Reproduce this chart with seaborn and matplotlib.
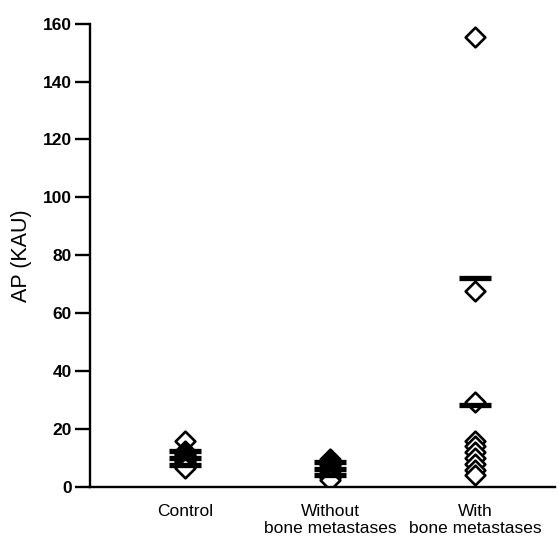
import pandas as pd
import matplotlib
matplotlib.use("Agg")
import matplotlib.pyplot as plt
import seaborn as sns

# group labels
groups = ["Control", "Without\nbone metastases", "With\nbone metastases"]

# individual AP values (KAU)
control_vals = [16, 12.5, 12, 11.5, 11, 10.5, 10, 9.5, 9, 8.5, 8, 7.5, 7, 6.5]
without_vals = [9.5, 8.5, 8, 7.5, 7, 6.5, 6, 5.5, 5, 4.5, 4, 3.5, 3, 2.5]
with_vals = [155.5, 67.5, 29.5, 16, 14, 12, 10, 8, 6, 4]

# mean and mean +/- SD bars
bar_groups = [groups[0], groups[0], groups[0],
              groups[1], groups[1], groups[1],
              groups[2], groups[2]]
bar_vals = [12.4, 10.1, 7.6,
            8.5, 6.2, 4.0,
            72.2, 28.2]

df = pd.DataFrame({
    "group": [groups[0]] * len(control_vals) + [groups[1]] * len(without_vals)
             + [groups[2]] * len(with_vals),
    "ap": control_vals + without_vals + with_vals,
})

sns.set_style("white")
plt.rcParams["font.family"] = ["Liberation Sans", "DejaVu Sans"]

fig = plt.figure(figsize=(5.59, 5.42), dpi=100)
ax = fig.add_axes([0.161, 0.1015, 0.832, 0.855])

sns.stripplot(data=df, x="group", y="ap", order=groups, jitter=False,
              marker="D", size=10, color="white", edgecolor="black",
              linewidth=1.9, ax=ax, zorder=2)

# mean / SD bars drawn as wide horizontal markers
bar_x = [groups.index(g) for g in bar_groups]
ax.plot(bar_x, bar_vals, ls="none", marker="_", markersize=23,
        markeredgewidth=3.8, color="black", zorder=3)

ax.set_xlim(-0.655, 2.55)
ax.set_ylim(0, 160)
ax.set_yticks(range(0, 161, 20))
ax.set_xlabel("")
ax.set_ylabel("AP (KAU)", fontsize=15.5, labelpad=8, color="black")

for side in ["top", "right"]:
    ax.spines[side].set_visible(False)
for side in ["left", "bottom"]:
    ax.spines[side].set_linewidth(1.7)
    ax.spines[side].set_color("black")

ax.tick_params(axis="y", direction="out", length=11, width=1.7,
               labelsize=12.5, pad=2, left=True, colors="black")
ax.tick_params(axis="x", length=0, labelsize=12.5, pad=12, colors="black")
for lab in ax.get_yticklabels():
    lab.set_fontweight("bold")

fig.savefig("out.png", dpi=100)
